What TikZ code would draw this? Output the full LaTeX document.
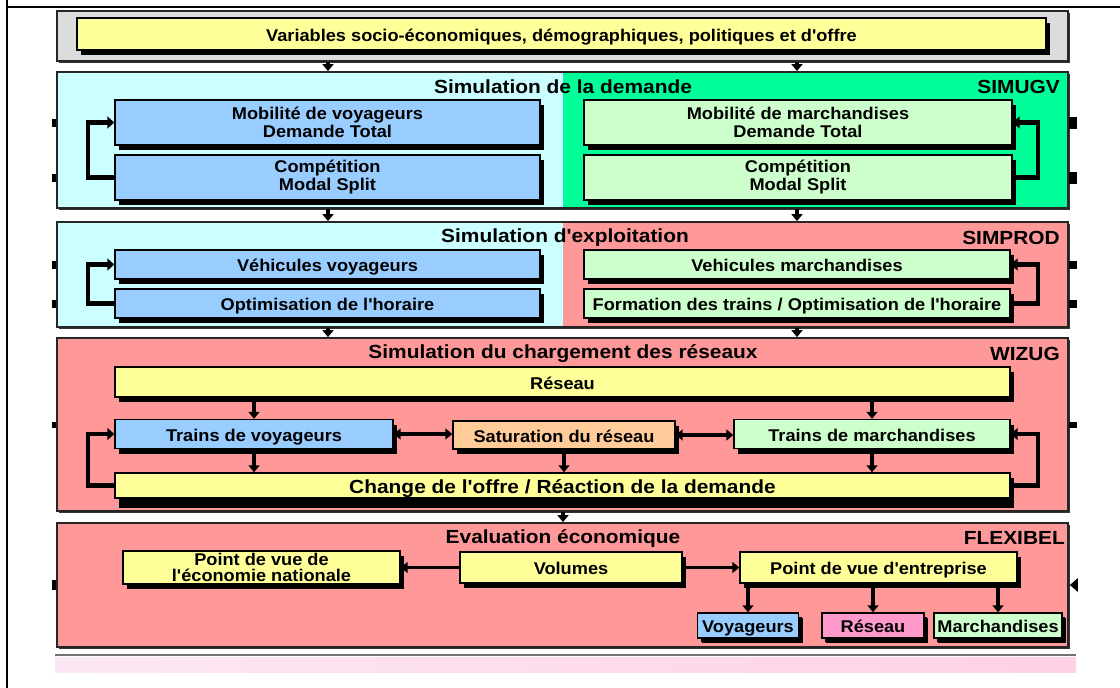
\documentclass[tikz,border=0pt]{standalone}
\usepackage{fontspec}
\newfontfamily\labelfam{Liberation Sans}[FakeStretch=1.07, Ligatures=TeXOff]
\newfontfamily\titlefam{Liberation Sans}[FakeStretch=1.1, Ligatures=TeXOff]
\usetikzlibrary{arrows.meta,shadows}

\definecolor{cyanlt}{HTML}{CCFFFF}
\definecolor{greenbr}{HTML}{00FF99}
\definecolor{salmon}{HTML}{FF9999}
\definecolor{bluelt}{HTML}{99CCFF}
\definecolor{greenlt}{HTML}{CCFFCC}
\definecolor{yellowlt}{HTML}{FFFF99}
\definecolor{orangelt}{HTML}{FFCC99}
\definecolor{pinklt}{HTML}{FF99CC}
\definecolor{greylt}{HTML}{DCDCDC}
\definecolor{bandleft}{HTML}{FCE8F4}
\definecolor{bandright}{HTML}{FFD0E6}

\newcommand\boxfont{\labelfam\bfseries\fontsize{17}{18}\selectfont}
\newcommand\rowfont{\titlefam\bfseries\fontsize{19}{21}\selectfont}
% small black tabs on the panel borders
\newcommand\tabL[2]{\fill ([xshift=-4pt,yshift=#2]#1) rectangle ([yshift=-#2]#1);}
\newcommand\tabR[2]{\fill ([yshift=#2]#1) rectangle ([xshift=8pt,yshift=-#2]#1);}

\begin{document}
\begin{tikzpicture}[x=1pt,y=-1pt,
  panel/.style={draw=black!85, line width=1.8pt, inner sep=0pt,
    drop shadow={shadow xshift=1.5pt, shadow yshift=-1.5pt, fill=black!80, opacity=1}},
  stage/.style={draw=black, line width=1.4pt, inner sep=0pt, align=center, font=\boxfont,
    drop shadow={shadow xshift=4pt, shadow yshift=-5pt, fill=black, opacity=1}},
  oneline/.style={text height=14pt, text depth=0pt},
  leaf/.style={stage, oneline, drop shadow={shadow xshift=3pt, shadow yshift=-3.5pt, fill=black, opacity=1}},
  heading/.style={font=\rowfont, inner sep=0pt},
  flow/.style={line width=3.6pt, -{Triangle[length=7pt,width=11pt]}},
  both/.style={line width=3.6pt, {Triangle[length=7pt,width=11pt]}-{Triangle[length=7pt,width=11pt]}},
  loopback/.style={line width=4.5pt, -{Triangle[length=7pt,width=12pt]}, line join=miter},
]
\useasboundingbox (0,0) rectangle (1120,688);

% page frame
\draw[line width=2pt] (7,0) -- (7,688);
\draw[line width=1.5pt] (7,7) -- (1120,7);

% ---- input variables
\node[panel, fill=greylt, minimum width=1011pt, minimum height=50pt] (frame0) at (562.5,36) {};
\node[stage, oneline, fill=yellowlt, minimum width=969pt, minimum height=32pt] (vars) at (561.5,34)
  {Variables socio-économiques, démographiques, politiques et d'offre};

% ---- demand simulation
\node[panel, fill=cyanlt, minimum width=1011pt, minimum height=136pt,
  path picture={\fill[greenbr] (path picture bounding box.north) rectangle (path picture bounding box.south east);}]
  (sim1) at (562.5,140) {};
\node[heading] (h1) at (563,87) {Simulation de la demande};
\node[heading, anchor=east] (k1) at (1060,87) {SIMUGV};
\node[stage, fill=bluelt, minimum width=425pt, minimum height=45pt] (mobv) at (327.5,122.5) {Mobilité de voyageurs\\Demande Total};
\node[stage, fill=bluelt, minimum width=425pt, minimum height=45pt] (compv) at (327.5,177.5) {Compétition\\Modal Split};
\node[stage, fill=greenlt, minimum width=428pt, minimum height=45pt] (mobm) at (798,122.5) {Mobilité de marchandises\\Demande Total};
\node[stage, fill=greenlt, minimum width=428pt, minimum height=45pt] (compm) at (798,177.5) {Compétition\\Modal Split};

% ---- operation simulation
\node[panel, fill=cyanlt, minimum width=1011pt, minimum height=105pt,
  path picture={\fill[salmon] (path picture bounding box.north) rectangle (path picture bounding box.south east);}]
  (sim2) at (562.5,274.5) {};
\node[heading] (h2) at (565,238) {Simulation d'exploitation};
\node[heading, anchor=east] (k2) at (1060,238) {SIMPROD};
\node[stage, oneline, fill=bluelt, minimum width=425pt, minimum height=29pt] (vehv) at (327.5,264.5) {Véhicules voyageurs};
\node[stage, oneline, fill=bluelt, minimum width=425pt, minimum height=29pt] (optv) at (327.5,303.5) {Optimisation de l'horaire};
\node[stage, oneline, fill=greenlt, minimum width=426pt, minimum height=29pt] (vehm) at (797,264.5) {Vehicules marchandises};
\node[stage, oneline, fill=greenlt, minimum width=426pt, minimum height=29pt] (form) at (797,303.5) {Formation des trains / Optimisation de l'horaire};

% ---- network loading simulation
\node[panel, fill=salmon, minimum width=1011pt, minimum height=173pt] (sim3) at (562.5,424.5) {};
\node[heading] (h3) at (563,354) {Simulation du chargement des réseaux};
\node[heading, anchor=east] (k3) at (1060,354) {WIZUG};
\node[stage, oneline, fill=yellowlt, minimum width=895pt, minimum height=30pt] (res) at (562.5,382) {Réseau};
\node[stage, oneline, fill=bluelt, minimum width=278pt, minimum height=29pt] (trv) at (254,434) {Trains de voyageurs};
\node[stage, oneline, fill=orangelt, minimum width=222pt, minimum height=28pt] (sat) at (564,435) {Saturation du réseau};
\node[stage, oneline, fill=greenlt, minimum width=276pt, minimum height=29pt] (trm) at (872,434) {Trains de marchandises};
\node[stage, fill=yellowlt, minimum width=895pt, minimum height=25pt, font=\rowfont,
  text height=15pt, text depth=0pt,
  drop shadow={shadow xshift=4pt, shadow yshift=-10pt, fill=black, opacity=1}] (chg) at (562.5,485.5)
  {Change de l'offre / Réaction de la demande};

% ---- economic evaluation
\node[panel, fill=salmon, minimum width=1011pt, minimum height=124pt] (sim4) at (562.5,585) {};
\node[heading] (h4) at (563,538) {Evaluation économique};
\node[heading, anchor=east] (k4) at (1065,538) {FLEXIBEL};
\node[stage, fill=yellowlt, minimum width=277pt, minimum height=33pt,
  font=\labelfam\bfseries\fontsize{17}{16}\selectfont] (pen) at (261.5,567.5) {Point de vue de\\l'économie nationale};
\node[stage, oneline, fill=yellowlt, minimum width=222pt, minimum height=31pt] (vol) at (571,567.5) {Volumes};
\node[stage, oneline, fill=yellowlt, minimum width=277pt, minimum height=31pt] (pve) at (878.5,567.5) {Point de vue d'entreprise};
\node[leaf, fill=bluelt, minimum width=101pt, minimum height=25pt] (voy) at (748,625.5) {Voyageurs};
\node[leaf, fill=pinklt, minimum width=102pt, minimum height=25pt] (rsx) at (873,625.5) {Réseau};
\node[leaf, fill=greenlt, minimum width=128pt, minimum height=25pt] (mar) at (998,625.5) {Marchandises};

% bottom rule and band
\draw[line width=2.5pt, black!55] (55,655) -- (1076,655);
\shade[left color=bandleft, right color=bandright] (55,657.5) rectangle (1076,672);

% ---- connectors between panels
\coordinate (colA) at (328,0);
\coordinate (colB) at (797,0);
\coordinate (colC) at (563,0);
\coordinate (loopL) at (88,0);
\coordinate (loopR) at (1038,0);

\draw[flow] (frame0.south -| colA) -- (sim1.north -| colA);
\draw[flow] (frame0.south -| colB) -- (sim1.north -| colB);
\draw[flow] (sim1.south -| colA) -- (sim2.north -| colA);
\draw[flow] (sim1.south -| colB) -- (sim2.north -| colB);
\draw[flow] (sim2.south -| colA) -- (sim3.north -| colA);
\draw[flow] (sim2.south -| colB) -- (sim3.north -| colB);
\draw[flow] (sim3.south -| colC) -- (sim4.north -| colC);

% ---- feedback loops
\draw[loopback] (compv.west) -- (compv.west -| loopL) |- (mobv.west);
\draw[loopback] (compm.east) -- (compm.east -| loopR) |- (mobm.east);
\draw[loopback] (optv.west) -- (optv.west -| loopL) |- (vehv.west);
\draw[loopback] (form.east) -- (form.east -| loopR) |- (vehm.east);
\draw[loopback] (chg.west) -- (chg.west -| loopL) |- (trv.west);
\draw[loopback] (chg.east) -- (chg.east -| loopR) |- (trm.east);

% ---- network loading flows
\draw[flow] (res.south -| trv.north) -- (trv.north);
\draw[flow] (res.south -| trm.north) -- (trm.north);
\draw[flow] (trv.south) -- (chg.north -| trv.south);
\draw[flow] (trm.south) -- (chg.north -| trm.south);
\draw[flow] (sat.south) -- (chg.north -| sat.south);
\draw[both] (trv.east) -- (trv.east -| sat.west);
\draw[both] (sat.east) -- (sat.east -| trm.west);

% ---- evaluation flows
\draw[flow] (vol.west) -- (vol.west -| pen.east);
\draw[flow] (vol.east) -- (vol.east -| pve.west);
\draw[flow] (pve.south -| voy.north) -- (voy.north);
\draw[flow] (pve.south -| rsx.north) -- (rsx.north);
\draw[flow] (pve.south -| mar.north) -- (mar.north);

% ---- border tabs
\coordinate (l1a) at (sim1.west |- mobv.west);
\coordinate (l1b) at (sim1.west |- compv.west);
\coordinate (l2a) at (sim2.west |- vehv.west);
\coordinate (l2b) at (sim2.west |- optv.west);
\coordinate (r1a) at (sim1.east |- mobm.east);
\coordinate (r1b) at (sim1.east |- compm.east);
\coordinate (r2a) at (sim2.east |- vehm.east);
\coordinate (r2b) at (sim2.east |- form.east);
\tabL{l1a}{4pt} \tabL{l1b}{4pt}
\tabL{l2a}{4pt} \tabL{l2b}{4pt}
\tabL{sim3.west}{3pt} \tabL{sim4.west}{5pt}
\tabR{r1a}{6pt} \tabR{r1b}{6pt}
\tabR{r2a}{4pt} \tabR{r2b}{4pt}
\tabR{sim3.east}{3pt}
\fill ([xshift=1pt]sim4.east) -- ([xshift=9pt,yshift=7pt]sim4.east) -- ([xshift=9pt,yshift=-7pt]sim4.east) -- cycle;

\end{tikzpicture}
\end{document}
